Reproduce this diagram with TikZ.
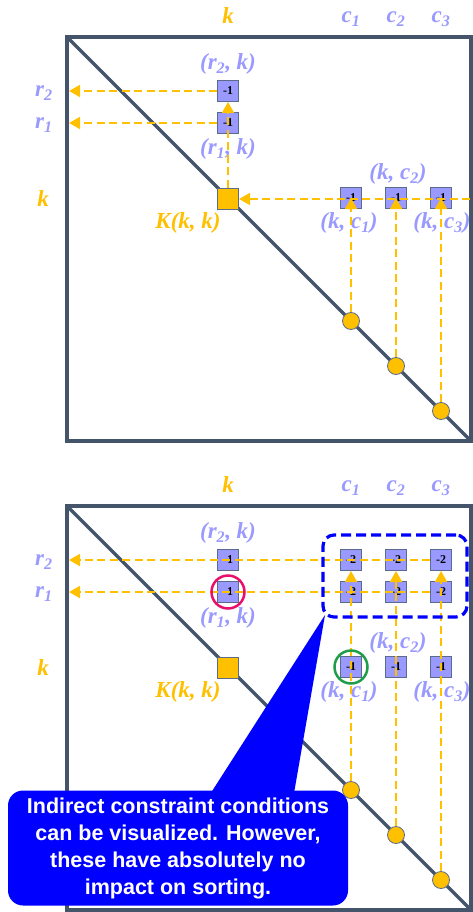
\documentclass[tikz,border=0pt]{standalone}
\usepackage{fontspec}
\newfontfamily\calloutfont{Liberation Sans}
\newfontfamily\lblfont{Liberation Serif}
\usetikzlibrary{arrows.meta}
\definecolor{framecol}{HTML}{44546A}
\definecolor{gold}{HTML}{FFC000}
\definecolor{lav}{HTML}{9999FF}
\definecolor{cellfill}{HTML}{9999FF}
\definecolor{celledge}{HTML}{5B6B8A}
\definecolor{ringred}{HTML}{E8106A}
\definecolor{ringgreen}{HTML}{1E9E48}
\definecolor{callblue}{HTML}{0000FF}
\newcommand{\sbs}[1]{\textsubscript{#1}}
\begin{document}
\begin{tikzpicture}[x=1pt,y=-1pt,
  cellbox/.style={draw=celledge, line width=1pt, fill=cellfill, minimum size=21pt, inner sep=0pt, font=\lblfont\fontsize{12}{12}\selectfont\bfseries},
  kbox/.style={draw=celledge, line width=1pt, fill=gold, minimum size=21pt, inner sep=0pt},
  dot/.style={circle, draw=celledge, line width=0.8pt, fill=gold, minimum size=17pt, inner sep=0pt},
  lbl/.style={font=\lblfont\fontsize{23}{23}\selectfont\bfseries\itshape, text=lav, inner sep=0pt},
  olbl/.style={lbl, text=gold},
  dline/.style={draw=gold, line width=1.8pt, dash pattern=on 8pt off 4.5pt},
  arr/.style={dline, -{Triangle[length=11pt,width=12pt]}},
  frm/.style={draw=framecol, line width=3.2pt},
  ring/.style={circle, line width=2.5pt, minimum size=33pt, inner sep=0pt},
]
\useasboundingbox (0,0) rectangle (473,912);

% ================= TOP PANEL =================
\coordinate (tl) at (67,37);
\coordinate (br) at (471,441);
\coordinate (lft) at (69,0);
\coordinate (rgt) at (470,0);
\draw[frm] (tl) rectangle (br);
\draw[frm] (tl) -- (br);

\node[olbl] (ktop) at (228,16) {k};
\node[lbl] (c1top) at (351,19) {c\sbs{1}};
\node[lbl] (c2top) at (396,19) {c\sbs{2}};
\node[lbl] (c3top) at (441,19) {c\sbs{3}};
\node[lbl] (r2left) at (44,93) {r\sbs{2}};
\node[lbl] (r1left) at (44,125) {r\sbs{1}};
\node[olbl] (kleft) at (43,199) {k};

\node[cellbox] (r2k) at (228,91) {-1};
\node[cellbox] (r1k) at (228,123) {-1};
\node[kbox] (kk) at (228,199) {};
\node[cellbox] (kc1) at (351,198) {-1};
\node[cellbox] (kc2) at (396,198) {-1};
\node[cellbox] (kc3) at (441,198) {-1};
\node[dot] (d1) at (351,321) {};
\node[dot] (d2) at (396,366) {};
\node[dot] (d3) at (441,411) {};

\node[lbl] (lr2k) at (228,64) {(r\sbs{2}, k)};
\node[lbl] (lr1k) at (228,149) {(r\sbs{1}, k)};
\node[olbl] (lkk) at (188,223) {K(k, k)};
\node[lbl] (lkc2) at (398,174) {(k, c\sbs{2})};
\node[lbl] (lkc1) at (349,223) {(k, c\sbs{1})};
\node[lbl] (lkc3) at (442,223) {(k, c\sbs{3})};

\draw[arr] (r2k.west) -- (r2k.west -| lft);
\draw[arr] (r1k.west) -- (r1k.west -| lft);
\draw[arr] (kk.north) -- (r2k.south);
\draw[arr] (kk.east -| rgt) -- (kk.east);
\draw[arr] (d1.north) -- (kc1.center);
\draw[arr] (d2.north) -- (kc2.center);
\draw[arr] (d3.north) -- (kc3.center);

% ================= BOTTOM PANEL =================
\begin{scope}[shift={(0,469)}]
\coordinate (tlb) at (67,37);
\coordinate (brb) at (471,441);
\coordinate (lftb) at (69,0);
\draw[frm] (tlb) rectangle (brb);
\draw[frm] (tlb) -- (brb);

\node[olbl] (ktopb) at (228,16) {k};
\node[lbl] (c1topb) at (351,19) {c\sbs{1}};
\node[lbl] (c2topb) at (396,19) {c\sbs{2}};
\node[lbl] (c3topb) at (441,19) {c\sbs{3}};
\node[lbl] (r2leftb) at (44,93) {r\sbs{2}};
\node[lbl] (r1leftb) at (44,125) {r\sbs{1}};
\node[olbl] (kleftb) at (43,199) {k};

\node[cellbox] (r2kb) at (228,91) {-1};
\node[cellbox] (r1kb) at (228,123) {-1};
\node[kbox] (kkb) at (228,199) {};
\node[cellbox] (kc1b) at (351,198) {-1};
\node[cellbox] (kc2b) at (396,198) {-1};
\node[cellbox] (kc3b) at (441,198) {-1};
\node[cellbox] (r2c1) at (351,91) {-2};
\node[cellbox] (r2c2) at (396,91) {-2};
\node[cellbox] (r2c3) at (441,91) {-2};
\node[cellbox] (r1c1) at (351,123) {-2};
\node[cellbox] (r1c2) at (396,123) {-2};
\node[cellbox] (r1c3) at (441,123) {-2};
\node[dot] (e1) at (351,321) {};
\node[dot] (e2) at (396,366) {};
\node[dot] (e3) at (441,411) {};

\node[lbl] (lr2kb) at (228,64) {(r\sbs{2}, k)};
\node[lbl] (lr1kb) at (228,149) {(r\sbs{1}, k)};
\node[olbl] (lkkb) at (188,223) {K(k, k)};
\node[lbl] (lkc2b) at (398,174) {(k, c\sbs{2})};
\node[lbl] (lkc1b) at (349,223) {(k, c\sbs{1})};
\node[lbl] (lkc3b) at (442,223) {(k, c\sbs{3})};

\draw[arr] (r2c3.west) -- (r2c3.west -| lftb);
\draw[arr] (r1c3.west) -- (r1c3.west -| lftb);
\draw[arr] (e1.north) -- (r2c1.south);
\draw[arr] (e2.north) -- (r2c2.south);
\draw[arr] (e3.north) -- (r2c3.south);

\node[ring, draw=ringred] (ringr) at (r1kb) {};
\node[ring, draw=ringgreen] (ringg) at (kc1b) {};

\node[draw=callblue, line width=3.2pt, dash pattern=on 10pt off 5pt, rounded corners=11pt, minimum width=144pt, minimum height=82pt] (grp) at (395,107) {};

\coordinate (tip) at (325,146);
\fill[callblue] (207,330) -- (293,330) -- (tip) -- cycle;
\node[fill=callblue, rounded corners=15pt, minimum width=340pt, minimum height=115pt, inner sep=0pt, text=white, align=center, font=\calloutfont\fontsize{21.5}{27}\selectfont\bfseries] (call) at (178,379) {Indirect constraint conditions\\can be visualized. However,\\these have absolutely no\\impact on sorting.};
\end{scope}
\end{tikzpicture}
\end{document}
